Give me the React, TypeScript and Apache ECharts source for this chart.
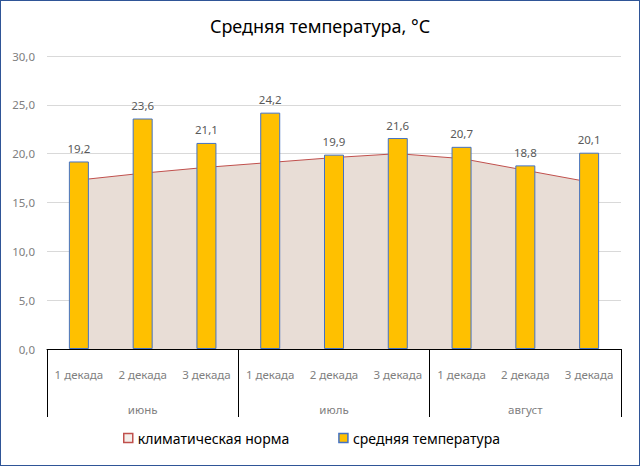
import React, { useEffect, useRef } from "react";
import * as echarts from "echarts";

const decades = ["1 декада", "2 декада", "3 декада", "1 декада", "2 декада", "3 декада", "1 декада", "2 декада", "3 декада"];
const months = ["июнь", "июль", "август"];
const normValues = [17.3, 18.0, 18.6, 19.1, 19.6, 20.0, 19.5, 18.3, 17.1];
const avgValues = [19.2, 23.6, 21.1, 24.2, 19.9, 21.6, 20.7, 18.8, 20.1];
const seriesNames = ["климатическая норма", "средняя температура"];
const titleText = "Средняя температура, °C";

const FONT = "'Noto Sans', 'DejaVu Sans', sans-serif";
const fmt = (v: number) => v.toFixed(1).replace(".", ",");

export default function App() {
  const ref = useRef<HTMLDivElement>(null);
  useEffect(() => {
    document.body.style.margin = "0";
    const chart = echarts.init(ref.current!, null, { renderer: "svg" });
    chart.setOption({
      animation: false,
      backgroundColor: "#ffffff",
      textStyle: { fontFamily: FONT },
      title: {
        text: titleText,
        left: "center",
        top: 11,
        textStyle: { fontFamily: FONT, fontSize: 18, fontWeight: "normal", color: "#000000" },
      },
      grid: { left: 46, right: 18, top: 55, bottom: 116, containLabel: false },
      legend: {
        bottom: 15,
        left: 117,
        itemWidth: 9,
        itemHeight: 9,
        itemGap: 49,
        icon: "rect",
        textStyle: { fontFamily: FONT, fontSize: 14, color: "#000000" },
        data: [
          { name: seriesNames[0], itemStyle: { color: "#F4EEEA", borderColor: "#C0504D", borderWidth: 1.5 } },
          { name: seriesNames[1], itemStyle: { color: "#FFC000", borderColor: "#4472C4", borderWidth: 1.5 } },
        ],
      },
      xAxis: [
        {
          type: "category",
          data: decades,
          boundaryGap: true,
          axisLine: { show: true, lineStyle: { color: "#000000", width: 1 } },
          axisTick: { show: false },
          axisLabel: { color: "#808080", fontFamily: FONT, fontSize: 11.5, margin: 19, interval: 0 },
        },
        {
          type: "category",
          data: months,
          position: "bottom",
          boundaryGap: true,
          axisLine: { show: false },
          axisTick: { show: true, length: 68, lineStyle: { color: "#000000", width: 1 } },
          axisLabel: { color: "#808080", fontFamily: FONT, fontSize: 11.5, margin: 54, interval: 0 },
        },
      ],
      yAxis: {
        type: "value",
        min: 0,
        max: 30,
        interval: 5,
        axisLine: { show: false },
        axisTick: { show: false },
        splitLine: { lineStyle: { color: "#D9D9D9", width: 1 } },
        axisLabel: { color: "#808080", fontFamily: FONT, fontSize: 11.5, margin: 12, formatter: (v: number) => fmt(v) },
      },
      series: [
        {
          name: seriesNames[0],
          type: "line",
          xAxisIndex: 0,
          data: normValues,
          symbol: "none",
          lineStyle: { color: "#C0504D", width: 1 },
          itemStyle: { color: "#C0504D" },
          areaStyle: { color: "#E8DDD6", opacity: 1 },
          z: 1,
        },
        {
          name: seriesNames[1],
          type: "bar",
          xAxisIndex: 0,
          data: avgValues,
          barWidth: 20,
          itemStyle: { color: "#FFC000", borderColor: "#4472C4", borderWidth: 1 },
          label: {
            show: true,
            position: "top",
            distance: 7,
            color: "#595959",
            fontFamily: FONT,
            fontSize: 11.5,
            formatter: (p: any) => fmt(p.value),
          },
          z: 3,
        },
      ],
    });
    return () => chart.dispose();
  }, []);
  return (
    <div
      ref={ref}
      style={{
        position: "fixed",
        left: 0,
        top: 0,
        width: 640,
        height: 466,
        boxSizing: "border-box",
        border: "1.5px solid #2F5597",
      }}
    />
  );
}
